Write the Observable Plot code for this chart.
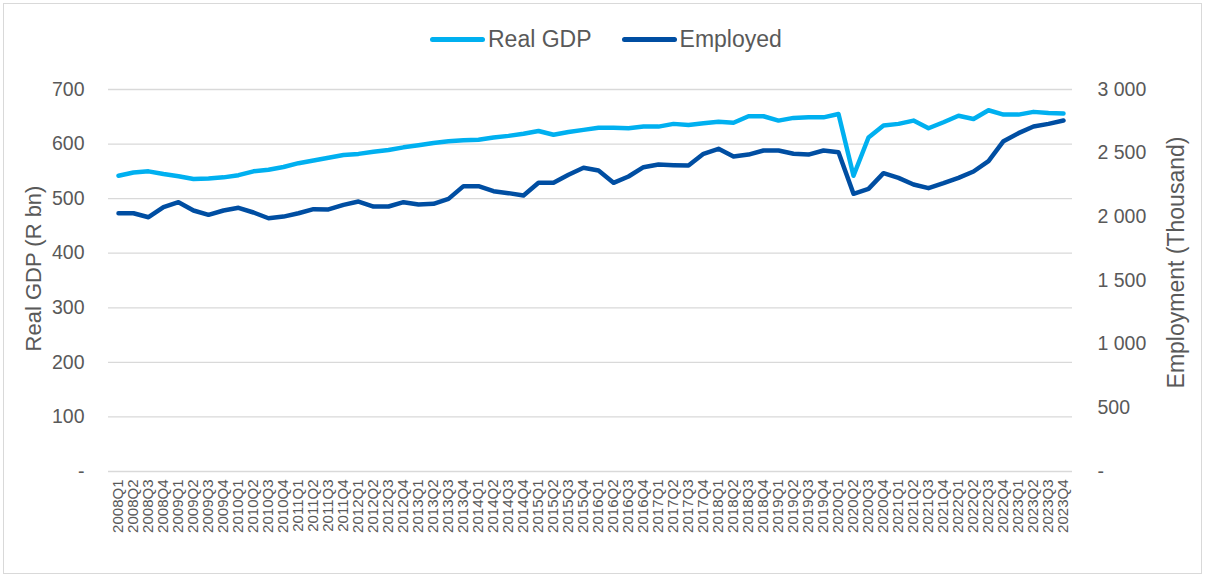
<!DOCTYPE html>
<html><head><meta charset="utf-8">
<script src="https://cdn.jsdelivr.net/npm/d3@7"></script>
<script src="https://cdn.jsdelivr.net/npm/@observablehq/plot@0.6"></script>
<style>
body{margin:0;background:#fff;font-family:"Liberation Sans",Arial,sans-serif;}
#wrap{position:relative;width:1205px;height:577px;overflow:hidden;background:#fff;}
#frame{position:absolute;left:3px;top:3px;width:1199px;height:571px;border:1px solid #d9d9d9;box-sizing:border-box;}
#legend{position:absolute;top:26px;left:430px;display:flex;align-items:center;font-size:23px;color:#595959;white-space:nowrap;}
.item{display:flex;align-items:center;margin-right:30px;}
.sw{width:55px;height:5px;border-radius:3px;margin-right:3px;}
#chart{position:absolute;top:60px;left:0;}
</style></head>
<body><div id="wrap"><div id="frame"></div><div id="legend"></div><div id="chart"></div></div>
<script>
const quarters = [];
for (let y = 2008; y <= 2023; y++) for (let q = 1; q <= 4; q++) quarters.push(`${y}Q${q}`);

const realGDP = [
  542, 548, 550, 545,
  541, 536, 537, 539,
  543, 550, 553, 558,
  565, 570, 575, 580,
  582, 586, 589, 594,
  598, 602, 605, 607,
  608, 612, 615, 619,
  624, 617, 622, 626,
  630, 630, 629, 632,
  632, 637, 635, 638,
  641, 639, 651, 651,
  643, 648, 649, 649,
  655, 542, 612, 634,
  637, 643, 629, 640,
  652, 646, 662, 654,
  654, 659, 657, 656
];
const employed = [
  2028, 2028, 1997, 2076,
  2115, 2050, 2016, 2050,
  2071, 2034, 1989, 2002,
  2028, 2060, 2058, 2094,
  2120, 2081, 2081, 2115,
  2097, 2102, 2141, 2241,
  2241, 2201, 2186, 2167,
  2267, 2267, 2330, 2385,
  2364, 2267, 2317, 2390,
  2411, 2406, 2403, 2495,
  2534, 2474, 2489, 2521,
  2521, 2495, 2489, 2521,
  2508, 2181, 2220, 2343,
  2306, 2254, 2225, 2264,
  2306, 2356, 2437, 2594,
  2657, 2709, 2730, 2756
];
const leftTicks = [0, 100, 200, 300, 400, 500, 600, 700];
const rightTicks = [0, 500, 1000, 1500, 2000, 2500, 3000];
const seriesNames = ["Real GDP", "Employed"];
const seriesColors = ["#00B0F0", "#004EA2"];
const leftTitle = "Real GDP (R bn)";
const rightTitle = "Employment (Thousand)";

const k = 700 / 3000;
const data = quarters.map((q, i) => ({q, gdp: realGDP[i], emp: employed[i]}));
const fmtL = d => d === 0 ? "-" : String(d);
const fmtR = d => d === 0 ? "-" : d >= 1000 ? `${Math.floor(d / 1000)} ${String(d % 1000).padStart(3, "0")}` : String(d);

// legend
const leg = document.getElementById("legend");
seriesNames.forEach((n, i) => {
  const it = document.createElement("div"); it.className = "item";
  const sw = document.createElement("div"); sw.className = "sw"; sw.style.background = seriesColors[i];
  const tx = document.createElement("span"); tx.textContent = n;
  it.append(sw, tx); leg.append(it);
});

const plot = Plot.plot({
  width: 1205, height: 517,
  marginTop: 29, marginBottom: 106, marginLeft: 108, marginRight: 133,
  style: {fontFamily: "Liberation Sans, Arial, sans-serif", color: "#595959", background: "transparent", overflow: "visible"},
  x: {type: "point", domain: quarters, padding: 0.5},
  y: {domain: [0, 700]},
  marks: [
    Plot.ruleY(leftTicks, {stroke: "#d9d9d9", strokeWidth: 1.3}),
    Plot.axisY(leftTicks, {anchor: "left", tickSize: 0, tickPadding: 24, fontSize: 19.5, tickFormat: fmtL, label: null}),
    Plot.axisY(rightTicks, {y: d => d * k, anchor: "right", tickSize: 0, tickPadding: 25, fontSize: 19.5, tickFormat: fmtR, label: null}),
    Plot.axisX({tickRotate: -90, tickSize: 0, tickPadding: 8, fontSize: 15, label: null}),
    Plot.text([leftTitle], {frameAnchor: "left", textAnchor: "middle", dx: -75, dy: -12, rotate: -90, fontSize: 22, fill: "#595959"}),
    Plot.text([rightTitle], {frameAnchor: "right", textAnchor: "middle", dx: 104, dy: -18, rotate: -90, fontSize: 23, fill: "#595959"}),
    Plot.lineY(data, {x: "q", y: "gdp", stroke: seriesColors[0], strokeWidth: 4.5, strokeLinejoin: "round", strokeLinecap: "round"}),
    Plot.lineY(data, {x: "q", y: d => d.emp * k, stroke: seriesColors[1], strokeWidth: 4.5, strokeLinejoin: "round", strokeLinecap: "round"})
  ]
});
document.getElementById("chart").append(plot);
</script>
</body></html>
